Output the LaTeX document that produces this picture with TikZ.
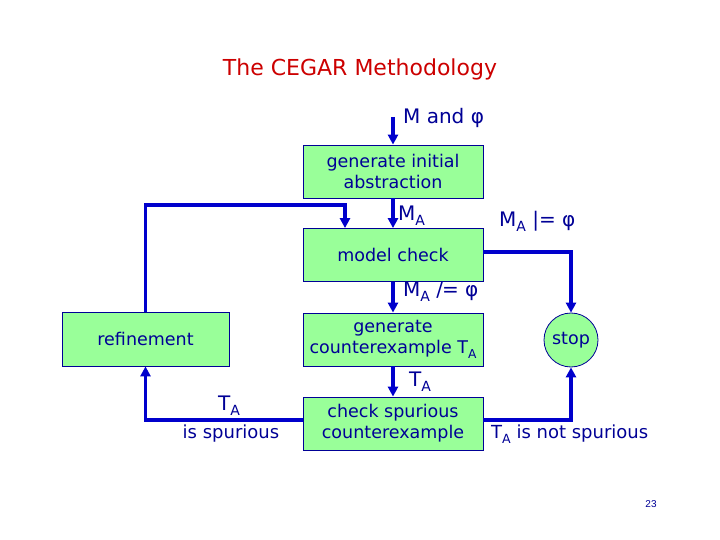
\documentclass[tikz,border=0pt]{standalone}
\usepackage{fontspec}
\setmainfont{DejaVu Sans}
\newfontfamily\pagefont{Liberation Sans}
\usetikzlibrary{arrows.meta}
\definecolor{boxg}{RGB}{153,255,153}
\definecolor{ink}{RGB}{0,0,150}
\definecolor{lineblue}{RGB}{0,0,204}
\definecolor{titlered}{RGB}{204,0,0}
\newcommand{\lowsub}[1]{\raisebox{-0.45ex}{\scalebox{0.7}{#1}}}
\begin{document}
\begin{tikzpicture}[x=1pt,y=-1pt,
 box/.style={draw=ink, line width=0.8pt, fill=boxg, text=ink, minimum width=180pt, minimum height=53pt, align=center, inner sep=0pt, font=\fontsize{17.5}{21}\selectfont},
 conn/.style={draw=lineblue, line width=3.5pt, line join=miter},
 arr/.style={conn, -{Triangle[length=10pt,width=10pt]}},
 lbl/.style={text=ink, inner sep=0pt, font=\fontsize{18}{21}\selectfont},
 biglbl/.style={text=ink, inner sep=0pt, font=\fontsize{20}{24}\selectfont}]
\useasboundingbox (0,0) rectangle (720,540);
\node[text=titlered, font=\fontsize{22}{26}\selectfont] (title) at (360,69) {The CEGAR Methodology};
\node[box] (gia) at (393,171.5) {generate initial\\abstraction};
\node[box] (mc) at (393,255) {model check};
\node[box] (gce) at (393,339.5) {generate\\counterexample T\lowsub{A}};
\node[box] (cs) at (393,423.5) {check spurious\\counterexample};
\node[box, minimum width=167pt, minimum height=54pt] (ref) at (145.5,339) {refinement};
\node[circle, draw=ink, line width=0.8pt, fill=boxg, text=ink, minimum size=54pt, inner sep=0pt, font=\fontsize{17.5}{21}\selectfont] (stop) at (571,340) {stop};
% connectors
\coordinate (in) at (393,117);
\coordinate (loopc) at (345,205);
\draw[arr] (in) -- (gia.north);
\draw[arr] (gia.south) -- (mc.north);
\draw[arr] (ref.north) |- (loopc) -- (loopc |- mc.north);
\draw[arr] ([yshift=3pt]mc.east) -| (stop.north);
\draw[arr] (mc.south) -- (gce.north);
\draw[arr] (gce.south) -- (cs.north);
\draw[arr] ([yshift=3.5pt]cs.west) -| (ref.south);
\draw[arr] ([yshift=3.5pt]cs.east) -| (stop.south);
% labels
\node[biglbl, anchor=west] (lin) at (403,118) {M and φ};
\node[biglbl, anchor=west] (lma) at (398,216) {M\lowsub{A}};
\node[biglbl, anchor=west] (lsat) at (499,221) {M\lowsub{A} |= φ};
\node[biglbl, anchor=west] (lnsat) at (403,292) {M\lowsub{A} /\kern-1pt= φ};
\node[biglbl, anchor=west] (lta) at (409,382) {T\lowsub{A}};
\node[biglbl] (lta2) at (229,406) {T\lowsub{A}};
\node[lbl] (lsp) at (231,434) {is spurious};
\node[lbl, anchor=west] (lnsp) at (491,434) {T\lowsub{A} is not spurious};
\node[text=ink, font=\pagefont\fontsize{10}{12}\selectfont] (pg) at (651,504) {23};
\end{tikzpicture}
\end{document}
